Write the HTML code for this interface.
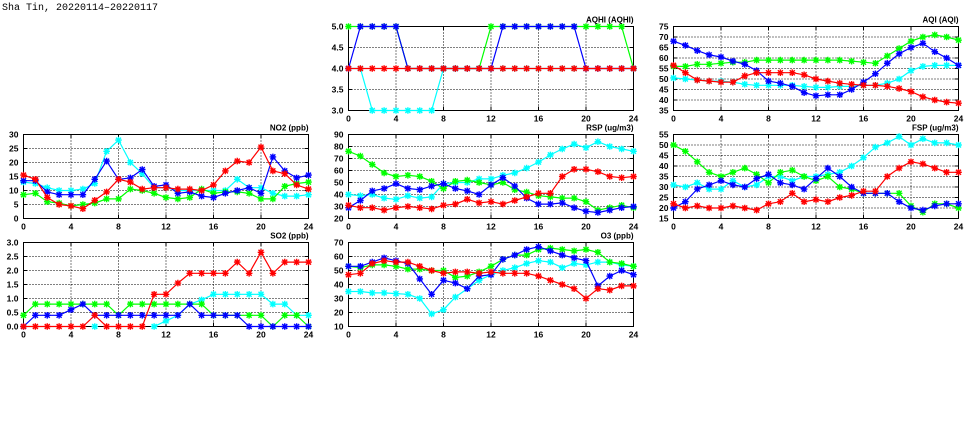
<!DOCTYPE html>
<html><head><meta charset="utf-8">
<style>
html,body{margin:0;padding:0;background:#fff;}
svg{display:block;}
.t{font-family:"Liberation Sans",sans-serif;font-weight:bold;font-size:8.5px;fill:#000;}
.ti{font-family:"Liberation Sans",sans-serif;font-weight:bold;font-size:8px;fill:#000;}
.hd{font-family:"Liberation Mono",monospace;font-size:10px;fill:#000;}
</style></head>
<body>
<svg id="root" width="975" height="447" viewBox="0 0 975 447" xmlns="http://www.w3.org/2000/svg">
<rect width="975" height="447" fill="#fff"/>
<text class="hd" x="2" y="10">Sha Tin, 20220114–20220117</text>

<!-- AQHI -->
<g transform="translate(348.5,26.5)">
<g id="p_aqhi"></g>
<text class="ti" x="285" y="-4" text-anchor="end">AQHI (AQHI)</text>
<g class="t" text-anchor="end">
<text x="-5" y="87">3.0</text><text x="-5" y="66">3.5</text><text x="-5" y="45">4.0</text><text x="-5" y="24">4.5</text><text x="-5" y="3">5.0</text>
</g>
<g class="t" text-anchor="middle">
<text x="0" y="95">0</text><text x="47.5" y="95">4</text><text x="95" y="95">8</text><text x="142.5" y="95">12</text><text x="190" y="95">16</text><text x="237.5" y="95">20</text><text x="285" y="95">24</text>
</g>
</g>

<!-- AQI -->
<g transform="translate(673.5,26.5)">
<g id="p_aqi"></g>
<text class="ti" x="285" y="-4" text-anchor="end">AQI (AQI)</text>
<g class="t" text-anchor="end">
<text x="-5" y="87">35</text><text x="-5" y="76.5">40</text><text x="-5" y="66">45</text><text x="-5" y="55.5">50</text><text x="-5" y="45">55</text><text x="-5" y="34.5">60</text><text x="-5" y="24">65</text><text x="-5" y="13.5">70</text><text x="-5" y="3">75</text>
</g>
<g class="t" text-anchor="middle">
<text x="0" y="95">0</text><text x="47.5" y="95">4</text><text x="95" y="95">8</text><text x="142.5" y="95">12</text><text x="190" y="95">16</text><text x="237.5" y="95">20</text><text x="285" y="95">24</text>
</g>
</g>

<!-- NO2 -->
<g transform="translate(23.5,134.5)">
<g id="p_no2"></g>
<text class="ti" x="285" y="-4" text-anchor="end">NO2 (ppb)</text>
<g class="t" text-anchor="end">
<text x="-5" y="87">0</text><text x="-5" y="73">5</text><text x="-5" y="59">10</text><text x="-5" y="45">15</text><text x="-5" y="31">20</text><text x="-5" y="17">25</text><text x="-5" y="3">30</text>
</g>
<g class="t" text-anchor="middle">
<text x="0" y="95">0</text><text x="47.5" y="95">4</text><text x="95" y="95">8</text><text x="142.5" y="95">12</text><text x="190" y="95">16</text><text x="237.5" y="95">20</text><text x="285" y="95">24</text>
</g>
</g>

<!-- RSP -->
<g transform="translate(348.5,134.5)">
<g id="p_rsp"></g>
<text class="ti" x="285" y="-4" text-anchor="end">RSP (ug/m3)</text>
<g class="t" text-anchor="end">
<text x="-5" y="87">20</text><text x="-5" y="75">30</text><text x="-5" y="63">40</text><text x="-5" y="51">50</text><text x="-5" y="39">60</text><text x="-5" y="27">70</text><text x="-5" y="15">80</text><text x="-5" y="3">90</text>
</g>
<g class="t" text-anchor="middle">
<text x="0" y="95">0</text><text x="47.5" y="95">4</text><text x="95" y="95">8</text><text x="142.5" y="95">12</text><text x="190" y="95">16</text><text x="237.5" y="95">20</text><text x="285" y="95">24</text>
</g>
</g>

<!-- FSP -->
<g transform="translate(673.5,134.5)">
<g id="p_fsp"></g>
<text class="ti" x="285" y="-4" text-anchor="end">FSP (ug/m3)</text>
<g class="t" text-anchor="end">
<text x="-5" y="87">15</text><text x="-5" y="76.5">20</text><text x="-5" y="66">25</text><text x="-5" y="55.5">30</text><text x="-5" y="45">35</text><text x="-5" y="34.5">40</text><text x="-5" y="24">45</text><text x="-5" y="13.5">50</text><text x="-5" y="3">55</text>
</g>
<g class="t" text-anchor="middle">
<text x="0" y="95">0</text><text x="47.5" y="95">4</text><text x="95" y="95">8</text><text x="142.5" y="95">12</text><text x="190" y="95">16</text><text x="237.5" y="95">20</text><text x="285" y="95">24</text>
</g>
</g>

<!-- SO2 -->
<g transform="translate(23.5,242.5)">
<g id="p_so2"></g>
<text class="ti" x="285" y="-4" text-anchor="end">SO2 (ppb)</text>
<g class="t" text-anchor="end">
<text x="-5" y="87">0.0</text><text x="-5" y="73">0.5</text><text x="-5" y="59">1.0</text><text x="-5" y="45">1.5</text><text x="-5" y="31">2.0</text><text x="-5" y="17">2.5</text><text x="-5" y="3">3.0</text>
</g>
<g class="t" text-anchor="middle">
<text x="0" y="95">0</text><text x="47.5" y="95">4</text><text x="95" y="95">8</text><text x="142.5" y="95">12</text><text x="190" y="95">16</text><text x="237.5" y="95">20</text><text x="285" y="95">24</text>
</g>
</g>

<!-- O3 -->
<g transform="translate(348.5,242.5)">
<g id="p_o3"></g>
<text class="ti" x="285" y="-4" text-anchor="end">O3 (ppb)</text>
<g class="t" text-anchor="end">
<text x="-5" y="87">10</text><text x="-5" y="73">20</text><text x="-5" y="59">30</text><text x="-5" y="45">40</text><text x="-5" y="31">50</text><text x="-5" y="17">60</text><text x="-5" y="3">70</text>
</g>
<g class="t" text-anchor="middle">
<text x="0" y="95">0</text><text x="47.5" y="95">4</text><text x="95" y="95">8</text><text x="142.5" y="95">12</text><text x="190" y="95">16</text><text x="237.5" y="95">20</text><text x="285" y="95">24</text>
</g>
</g>
</svg>

<script>
(function(){
var W=285,H=84;
var NS="http://www.w3.org/2000/svg";
var cols={c:'#00ffff',g:'#00ff00',b:'#0000ff',r:'#ff0000'};
function el(tag,attrs,parent){var e=document.createElementNS(NS,tag);for(var k in attrs)e.setAttribute(k,attrs[k]);parent.appendChild(e);return e;}
function draw(id,min,max,nY,series){
  var g=document.getElementById(id);
  var i;
  for(i=1;i<nY;i++){var y=H-i*H/nY;el('line',{x1:0,y1:y,x2:W,y2:y,stroke:'#000','stroke-width':1,'stroke-dasharray':'1,2'},g);}
  for(i=1;i<6;i++){var x=i*W/6;el('line',{x1:x,y1:0,x2:x,y2:H,stroke:'#000','stroke-width':1,'stroke-dasharray':'1,2'},g);}
  for(i=0;i<=nY;i++){var y=H-i*H/nY;el('line',{x1:0,y1:y,x2:4,y2:y,stroke:'#000'},g);el('line',{x1:W-4,y1:y,x2:W,y2:y,stroke:'#000'},g);}
  for(i=0;i<=6;i++){var x=i*W/6;el('line',{x1:x,y1:H,x2:x,y2:H-4,stroke:'#000'},g);el('line',{x1:x,y1:0,x2:x,y2:4,stroke:'#000'},g);}
  el('rect',{x:0,y:0,width:W,height:H,fill:'none',stroke:'#000','stroke-width':1},g);
  ['c','g','b','r'].forEach(function(k){
    var arr=series[k]; if(!arr) return;
    var segs=[],pts=[];
    arr.forEach(function(v,i){
      if(v===null){if(pts.length)segs.push(pts);pts=[];return;}
      pts.push([i*W/24,H-(v-min)/(max-min)*H]);
    });
    if(pts.length)segs.push(pts);
    segs.forEach(function(sg){
      el('polyline',{points:sg.map(function(p){return p[0].toFixed(1)+','+p[1].toFixed(1);}).join(' '),fill:'none',stroke:cols[k],'stroke-width':1.2},g);
      sg.forEach(function(p){
        var x=p[0],y=p[1];
        el('path',{d:'M'+(x-3.3)+','+y+'h6.6M'+x+','+(y-3.3)+'v6.6M'+(x-2.5)+','+(y-2.5)+'l5,5M'+(x-2.5)+','+(y+2.5)+'l5,-5',stroke:cols[k],'stroke-width':1.4,fill:'none'},g);
      });
    });
  });
}
var N=null;
draw('p_no2',0,30,6,{
 c:[13,12.5,11,10,10,10.5,12.5,24,28,20,16,11,11,10,10,10,10,10,14,11,11,9,8,8,8.5],
 g:[8.5,9,6,5.5,4.5,5,5.5,7,7,10.5,10,9,7.5,7,7.5,10.5,9,9.5,9.5,9,7,7,11.5,12.5,13],
 b:[13.5,13.5,9.5,8.5,8.5,8.5,14,20.5,14,14.5,17.5,11.5,12,9,9.5,8,7.5,9,10,11,9,22,17,14.5,15.5],
 r:[15.5,14,7.5,5,4.5,3.5,6.5,9.5,14,13,10.5,11,11,10.5,10.5,10,12,17,20.5,20,25.5,17,16,12,10.5]
});
draw('p_so2',0,3,6,{
 c:[N,N,N,N,N,N,0,N,N,N,N,0,0.2,0.4,0.8,0.95,1.15,1.15,1.15,1.15,1.15,0.8,0.8,0.4,0.4],
 g:[0.4,0.8,0.8,0.8,0.8,0.8,0.8,0.8,0.4,0.8,0.8,0.8,0.8,0.8,0.8,0.8,0.4,0.4,0.4,0.4,0.4,0,0.4,0.4,0],
 b:[0,0.4,0.4,0.4,0.6,0.8,0.4,0.4,0.4,0.4,0.4,0.4,0.4,0.4,0.8,0.4,0.4,0.4,0.4,0,0,0,0,0,0],
 r:[0,0,0,0,0,0,0.4,0,0,0,0,1.15,1.15,1.55,1.9,1.9,1.9,1.9,2.3,1.9,2.65,1.9,2.3,2.3,2.3]
});
draw('p_aqhi',3,5,4,{
 c:[4,4,3,3,3,3,3,3,4,4,4,4,4,4,4,4,4,4,4,4,4,4,4,4,4],
 g:[5,5,5,5,5,4,4,4,4,4,4,4,5,5,5,5,5,5,5,5,5,5,5,5,4],
 b:[4,5,5,5,5,4,4,4,4,4,4,4,4,5,5,5,5,5,5,5,4,4,4,4,4],
 r:[4,4,4,4,4,4,4,4,4,4,4,4,4,4,4,4,4,4,4,4,4,4,4,4,4]
});
draw('p_rsp',20,90,7,{
 c:[40,39,40,37,36,39,37,38,49,50,50,53,53,56,58,62,67,73,78,82,79,84,80,78,76],
 g:[76,72,65,58,55,56,55,51,45,51,52,50,48,50,44,42,39,38,37,37,34,27,29,31,29],
 b:[29,35,43,45,49,45,44,47,49,45,43,40,48,54,47,37,32,32,33,29,26,25,27,29,30],
 r:[31,29,29,27,29,30,29,28,31,32,36,33,34,32,35,38,41,41,55,61,61,59,55,54,55]
});
draw('p_o3',10,70,6,{
 c:[35,35,34,34,33.5,33,30,19,22,31,37,43,47,50,52,55,57,56,52,55,54,56,56,54,53],
 g:[53,52,54,54,53,51,51,50,50,45,46,49,53,58,61,61,65,66,65,64,65,63,56,55,53],
 b:[53,53,56,59,57,55,44,33,43,41,37,46,47,58,61,65,67,64,61,59,57,39,46,50,47],
 r:[47,48,55,57,56,56,53,50,48,49,49,48,49,48,48,48,46,43,40,37,30,37,36,39,39]
});
draw('p_aqi',35,75,8,{
 c:[50.5,50,49.5,49,49,48.5,47.5,47,47,47,47,46.5,46,46,46.5,46.5,47,47,48,50,54,56,56.5,56.5,56.5],
 g:[56,56,57,57,57.5,58,58,59,59,59,59,59,59,59,59,58.5,58,57.5,61,64.5,68,70,71,70,68.5],
 b:[68,66,63.5,61.5,60.5,58.5,57,54,49,48,46.5,43.5,42,42.5,42.5,45,48.5,52.5,57.5,62,65,67,63,60,56.5],
 r:[56.5,53,49.5,49,48.5,48.5,51.5,53,53,53,53,52,50,49,48,47.5,47,47,46.5,45.5,44,41.5,40,39,38.5]
});
draw('p_fsp',15,55,8,{
 c:[31,30,32,29,29,33,30,31,35,35,33,35,35,36,37,40,44,49,51,54,50,53,51,51,50],
 g:[50,47,42,37,35,37,39,36,32,37,38,35,33,35,30,29,27,27,27,27,21,18,22,22,20],
 b:[20,23,29,31,33,31,30,34,36,32,31,29,34,39,35,30,27,27,27,23,20,19,21,22,22],
 r:[22,20,21,20,20,21,20,19,22,23,27,23,24,23,25,26,28,28,35,39,42,41,39,37,37]
});
})();
</script>
</body></html>
